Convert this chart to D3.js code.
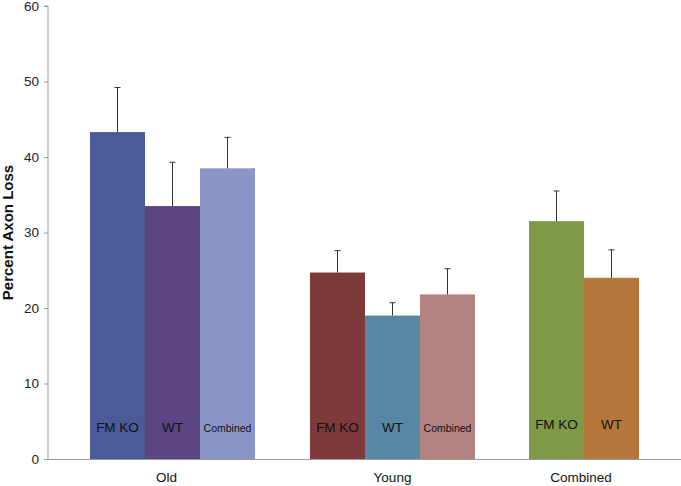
<!DOCTYPE html>
<html><head><meta charset="utf-8">
<script src="https://cdn.jsdelivr.net/npm/d3@7"></script>
<style>body{margin:0;background:#fff}svg{display:block}text{font-family:"Liberation Sans",Arial,sans-serif}</style>
</head><body>
<svg id="c" width="681" height="486"></svg>
<script>
const categories = ["Old", "Young", "Combined"];
const barLabels = [["FM KO","WT","Combined"],["FM KO","WT","Combined"],["FM KO","WT"]];
const values = [[43.3, 33.5, 38.5],[24.7, 19.0, 21.8],[31.5, 24.0]];
const errors = [[5.9, 5.8, 4.1],[2.9, 1.7, 3.4],[4.0, 3.7]];
const colors = [["#4a5b98","#5b4683","#8a96c6"],["#7e3a3a","#5787a2","#b38281"],["#7f9a47","#b6763a"]];
const yTicks = [0,10,20,30,40,50,60];

const svg = d3.select("#c");
const x0 = 48, y0 = 459;
const y = d3.scaleLinear().domain([0,60]).range([y0, 6]);
const groupStart = d3.scaleLinear().domain([0,1]).range([90, 310]);
const bw = 55;

const ya = svg.append("g").attr("transform",`translate(${x0},0)`)
  .call(d3.axisLeft(y).tickValues(yTicks).tickSize(4).tickPadding(5));
ya.select(".domain").attr("stroke","#9a9a9a").attr("d",`M-4,${y(60)}H0V${y0}`);
ya.selectAll(".tick line").attr("stroke","#9a9a9a");
ya.selectAll(".tick text").attr("font-size",13.5).attr("fill","#222");

svg.append("line").attr("x1",x0-4).attr("x2",681).attr("y1",y0+0.5).attr("y2",y0+0.5)
  .attr("stroke","#9a9a9a");

svg.append("text").attr("transform",`translate(13,${(y(0)+y(60))/2}) rotate(-90)`)
  .attr("text-anchor","middle").attr("font-size",15).attr("font-weight","bold").attr("fill","#111")
  .text("Percent Axon Loss");

categories.forEach((cat,i)=>{
  const gx = groupStart(i) - (i===2?1:0);
  const vals = values[i];
  vals.forEach((v,j)=>{
    const bx = gx + j*bw;
    svg.append("rect").attr("x",bx).attr("y",y(v)).attr("width",bw).attr("height",y0-y(v))
      .attr("fill",colors[i][j]);
    const cx = bx + bw/2;
    const ey = y(v+errors[i][j]);
    svg.append("line").attr("x1",cx).attr("x2",cx).attr("y1",y(v)).attr("y2",ey).attr("stroke","#333").attr("stroke-width",1);
    svg.append("line").attr("x1",cx-3).attr("x2",cx+3).attr("y1",ey).attr("y2",ey).attr("stroke","#333").attr("stroke-width",1);
    const lbl = barLabels[i][j];
    svg.append("text").attr("x",cx).attr("y", i===2 ? 429 : 432).attr("text-anchor","middle")
      .attr("font-size", lbl==="Combined"?10.5:13.5).attr("fill","#111").text(lbl);
  });
  const center = gx + vals.length*bw/2 - (i===0?6:0) - (i===2?3:0);
  svg.append("text").attr("x",center).attr("y",482).attr("text-anchor","middle")
    .attr("font-size",13.5).attr("fill","#111").text(cat);
});
</script>
</body></html>
